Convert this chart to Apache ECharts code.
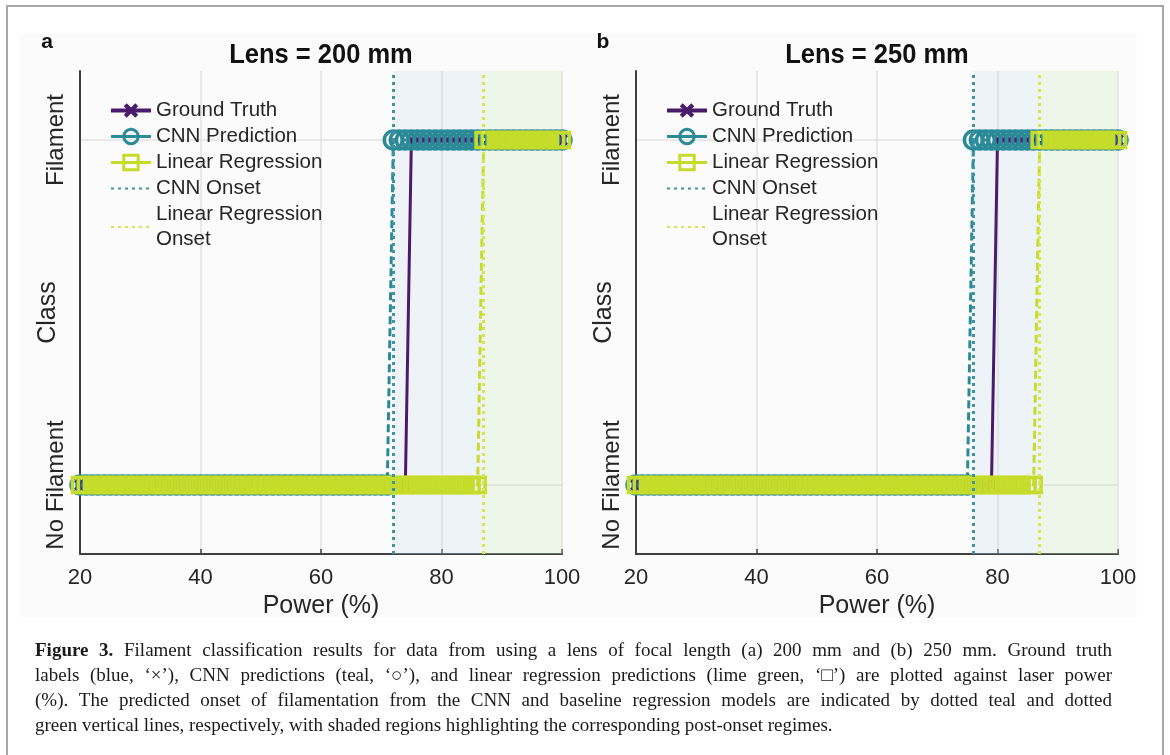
<!DOCTYPE html>
<html>
<head>
<meta charset="utf-8">
<script src="https://cdn.jsdelivr.net/npm/echarts@6/dist/echarts.min.js"></script>
<style>
html,body{margin:0;padding:0;background:#fff;}
#chart{width:1170px;height:755px;}
</style>
</head>
<body>
<div id="chart"></div>
<script>
// ---- data ----
const power = [
  20,21,22,23,24,25,26,27,28,29,
  30,31,32,33,34,35,36,37,38,39,
  40,41,42,43,44,45,46,47,48,49,
  50,51,52,53,54,55,56,57,58,59,
  60,61,62,63,64,65,66,67,68,69,
  70,71,72,73,74,75,76,77,78,79,
  80,81,82,83,84,85,86,87,88,89,
  90,91,92,93,94,95,96,97,98,99,
  100];

// Panel a: Lens = 200 mm (0 = No Filament, 1 = Filament)
const gtA = [
  0,0,0,0,0,0,0,0,0,0,
  0,0,0,0,0,0,0,0,0,0,
  0,0,0,0,0,0,0,0,0,0,
  0,0,0,0,0,0,0,0,0,0,
  0,0,0,0,0,0,0,0,0,0,
  0,0,0,0,0,1,1,1,1,1,
  1,1,1,1,1,1,1,1,1,1,
  1,1,1,1,1,1,1,1,1,1,
  1];
const cnnA = [
  0,0,0,0,0,0,0,0,0,0,
  0,0,0,0,0,0,0,0,0,0,
  0,0,0,0,0,0,0,0,0,0,
  0,0,0,0,0,0,0,0,0,0,
  0,0,0,0,0,0,0,0,0,0,
  0,0,1,1,1,1,1,1,1,1,
  1,1,1,1,1,1,1,1,1,1,
  1,1,1,1,1,1,1,1,1,1,
  1];
const lrA = [
  0,0,0,0,0,0,0,0,0,0,
  0,0,0,0,0,0,0,0,0,0,
  0,0,0,0,0,0,0,0,0,0,
  0,0,0,0,0,0,0,0,0,0,
  0,0,0,0,0,0,0,0,0,0,
  0,0,0,0,0,0,0,0,0,0,
  0,0,0,0,0,0,0,1,1,1,
  1,1,1,1,1,1,1,1,1,1,
  1];
const cnnOnsetA = 72;
const lrOnsetA = 87;

// Panel b: Lens = 250 mm
const gtB = [
  0,0,0,0,0,0,0,0,0,0,
  0,0,0,0,0,0,0,0,0,0,
  0,0,0,0,0,0,0,0,0,0,
  0,0,0,0,0,0,0,0,0,0,
  0,0,0,0,0,0,0,0,0,0,
  0,0,0,0,0,0,0,0,0,0,
  1,1,1,1,1,1,1,1,1,1,
  1,1,1,1,1,1,1,1,1,1,
  1];
const cnnB = [
  0,0,0,0,0,0,0,0,0,0,
  0,0,0,0,0,0,0,0,0,0,
  0,0,0,0,0,0,0,0,0,0,
  0,0,0,0,0,0,0,0,0,0,
  0,0,0,0,0,0,0,0,0,0,
  0,0,0,0,0,0,1,1,1,1,
  1,1,1,1,1,1,1,1,1,1,
  1,1,1,1,1,1,1,1,1,1,
  1];
const lrB = [
  0,0,0,0,0,0,0,0,0,0,
  0,0,0,0,0,0,0,0,0,0,
  0,0,0,0,0,0,0,0,0,0,
  0,0,0,0,0,0,0,0,0,0,
  0,0,0,0,0,0,0,0,0,0,
  0,0,0,0,0,0,0,0,0,0,
  0,0,0,0,0,0,0,1,1,1,
  1,1,1,1,1,1,1,1,1,1,
  1];
const cnnOnsetB = 76;
const lrOnsetB = 87;

const yTickValues = [0, 1];
const yTickLabels = ['No Filament', 'Filament'];
const panelLetters = ['a', 'b'];
const panelTitles = ['Lens = 200 mm', 'Lens = 250 mm'];
const captionBold = 'Figure 3.';
const captionLines = [
  'Figure 3. Filament classification results for data from using a lens of focal length (a) 200 mm and (b) 250 mm. Ground truth',
  'labels (blue, \u2018\u00d7\u2019), CNN predictions (teal, \u2018\u25cb\u2019), and linear regression predictions (lime green, \u2018\u25a1\u2019) are plotted against laser power',
  '(%). The predicted onset of filamentation from the CNN and baseline regression models are indicated by dotted teal and dotted',
  'green vertical lines, respectively, with shaded regions highlighting the corresponding post-onset regimes.'
];

// ---- styling ----
const FONT = "'Liberation Sans', Arial, Helvetica, sans-serif";
const SERIF = "'Liberation Serif', 'Times New Roman', serif";
const C_GT = '#4a1a6c';
const C_CNN = '#2b8a98';
const C_LR = '#c6dc2a';
const C_CNN_ON = '#3f93a4';
const C_LR_ON = '#d5e64e';
const TXT = '#262626';
const X_PATH = 'path://M2,0 L5,3 L8,0 L10,2 L7,5 L10,8 L8,10 L5,7 L2,10 L0,8 L3,5 L0,2 Z';

const panels = [
  {gt: gtA, cnn: cnnA, lr: lrA, cnnOn: cnnOnsetA, lrOn: lrOnsetA},
  {gt: gtB, cnn: cnnB, lr: lrB, cnnOn: cnnOnsetB, lrOn: lrOnsetB}
];
const gridLefts = [80, 636];
const gridW = 482;

function pairs(ys) { return power.map((p, i) => [p, ys[i]]); }
const xMax = power[power.length - 1];

const grids = [], xAxes = [], yAxes = [], series = [], legends = [], graphics = [];

panels.forEach((pd, g) => {
  grids.push({left: gridLefts[g], top: 71, width: gridW, height: 483});
  xAxes.push({
    gridIndex: g, type: 'value', min: 20, max: 100, interval: 20,
    name: 'Power (%)', nameLocation: 'middle', nameGap: 36,
    nameTextStyle: {fontSize: 25, color: TXT, fontFamily: FONT},
    axisLine: {show: true, onZero: false, lineStyle: {color: '#404040', width: 2}},
    axisTick: {show: true, inside: true, length: 5, lineStyle: {color: '#404040', width: 1.5}},
    axisLabel: {fontSize: 22, color: TXT, fontFamily: FONT, margin: 13},
    splitLine: {show: true, lineStyle: {color: '#e2e2e2', width: 1.5}}
  });
  yAxes.push({
    gridIndex: g, type: 'value', min: -0.2, max: 1.2,
    name: 'Class', nameLocation: 'middle', nameGap: 19, nameRotate: 90, nameMoveOverlap: false,
    nameTextStyle: {fontSize: 25, color: TXT, fontFamily: FONT},
    axisLine: {show: true, onZero: false, lineStyle: {color: '#404040', width: 2}},
    axisTick: {show: false, customValues: yTickValues},
    axisLabel: {customValues: yTickValues, rotate: 90, fontSize: 24, color: TXT, fontFamily: FONT, margin: 12,
      formatter: v => yTickLabels[yTickValues.indexOf(v)]},
    splitLine: {show: true, lineStyle: {color: '#e2e2e2', width: 1.5}}
  });

  series.push({
    name: 'CNN Onset', type: 'line', xAxisIndex: g, yAxisIndex: g, data: [], symbol: 'none',
    itemStyle: {color: C_CNN_ON},
    lineStyle: {color: C_CNN_ON, width: 3, type: [3, 4]},
    markArea: {silent: true, itemStyle: {color: 'rgba(205,222,240,0.28)'},
      data: [[{xAxis: pd.cnnOn}, {xAxis: pd.lrOn}]]},
    markLine: {silent: true, symbol: 'none', label: {show: false},
      lineStyle: {color: C_CNN_ON, width: 3, type: [3, 4]},
      data: [{xAxis: pd.cnnOn}]}
  });
  series.push({
    name: 'Linear Regression Onset', type: 'line', xAxisIndex: g, yAxisIndex: g, data: [], symbol: 'none',
    itemStyle: {color: C_LR_ON},
    lineStyle: {color: C_LR_ON, width: 3, type: [3, 4]},
    markArea: {silent: true, itemStyle: {color: 'rgba(210,235,195,0.30)'},
      data: [[{xAxis: pd.lrOn}, {xAxis: xMax}]]},
    markLine: {silent: true, symbol: 'none', label: {show: false},
      lineStyle: {color: C_LR_ON, width: 3, type: [3, 4]},
      data: [{xAxis: pd.lrOn}]}
  });
  series.push({
    name: 'Ground Truth', type: 'line', xAxisIndex: g, yAxisIndex: g, data: pairs(pd.gt),
    symbol: X_PATH, symbolSize: 12, itemStyle: {color: C_GT},
    lineStyle: {color: C_GT, width: 3}, emphasis: {disabled: true}
  });
  series.push({
    name: 'CNN Prediction', type: 'line', xAxisIndex: g, yAxisIndex: g, data: pairs(pd.cnn),
    symbol: 'circle', symbolSize: 18,
    itemStyle: {color: 'rgba(0,0,0,0)', borderColor: C_CNN, borderWidth: 3.5},
    lineStyle: {color: C_CNN, width: 3, type: [8, 4]}, emphasis: {disabled: true}
  });
  series.push({
    name: 'Linear Regression', type: 'line', xAxisIndex: g, yAxisIndex: g, data: pairs(pd.lr),
    symbol: 'rect', symbolSize: 15,
    itemStyle: {color: 'rgba(0,0,0,0)', borderColor: C_LR, borderWidth: 3.5},
    lineStyle: {color: C_LR, width: 3, type: [8, 4]}, emphasis: {disabled: true}
  });

  legends.push({
    left: gridLefts[g] + 24, top: 93, orient: 'vertical',
    itemWidth: 40, itemHeight: 18, itemGap: 1, selectedMode: false,
    textStyle: {fontSize: 20.5, color: TXT, fontFamily: FONT, lineHeight: 25},
    formatter: n => n === 'Linear Regression Onset' ? 'Linear Regression\nOnset' : n,
    data: [
      {name: 'Ground Truth', lineStyle: {width: 4}},
      {name: 'CNN Prediction', lineStyle: {type: 'solid', width: 3}, itemStyle: {borderWidth: 3}},
      {name: 'Linear Regression', lineStyle: {type: 'solid', width: 3}, itemStyle: {borderWidth: 3}},
      {name: 'CNN Onset', itemStyle: {opacity: 0}},
      {name: 'Linear Regression Onset', itemStyle: {opacity: 0}}
    ]
  });

  graphics.push({type: 'text', x: gridLefts[g] - 33, y: 42, z: 10,
    style: {text: panelLetters[g], fontSize: 21, fontWeight: 'bold', fontFamily: FONT, fill: '#111',
      textAlign: 'center', textVerticalAlign: 'middle'}});
  graphics.push({type: 'text', x: gridLefts[g] + gridW / 2, y: 55, scaleX: 0.91, z: 10,
    style: {text: panelTitles[g], fontSize: 28, fontWeight: 'bold', fontFamily: FONT, fill: '#111',
      textAlign: 'center', textVerticalAlign: 'middle'}});
});

// background + border
graphics.unshift({type: 'rect', z: -10, shape: {x: 20, y: 33, width: 1117, height: 584}, style: {fill: '#fbfbfb'}});
graphics.push({type: 'rect', z: 20, shape: {x: 7, y: 6, width: 1156, height: 770}, style: {fill: 'none', stroke: '#a6a6a6', lineWidth: 2}});

// caption: justified lines (last line left aligned), word by word
(function () {
  const CAP_SIZE = 19, CAP_LEFT = 35, CAP_RIGHT = 1112, CAP_TOP = 651, CAP_LH = 25;
  const ctx = document.createElement('canvas').getContext('2d');
  const fontOf = b => (b ? 'bold ' : '') + CAP_SIZE + 'px ' + SERIF;
  captionLines.forEach((line, li) => {
    const words = line.split(' ');
    const boldCount = li === 0 ? captionBold.split(' ').length : 0;
    const items = words.map((w, i) => {
      const b = i < boldCount;
      ctx.font = fontOf(b);
      return {w: w, b: b, width: ctx.measureText(w).width};
    });
    ctx.font = fontOf(false);
    const space = ctx.measureText(' ').width;
    const total = items.reduce((s, it) => s + it.width, 0);
    const last = li === captionLines.length - 1;
    const gap = last ? space : (CAP_RIGHT - CAP_LEFT - total) / (items.length - 1);
    let x = CAP_LEFT;
    items.forEach(it => {
      graphics.push({type: 'text', x: x, y: CAP_TOP + li * CAP_LH, z: 10,
        style: {text: it.w, fontSize: CAP_SIZE, fontWeight: it.b ? 'bold' : 'normal', fontFamily: SERIF,
          fill: '#1a1a1a', textVerticalAlign: 'middle'}});
      x += it.width + gap;
    });
  });
})();

const chart = echarts.init(document.getElementById('chart'), null, {renderer: 'canvas'});
chart.setOption({
  animation: false,
  backgroundColor: '#ffffff',
  grid: grids, xAxis: xAxes, yAxis: yAxes, series: series, legend: legends,
  graphic: graphics
});
</script>
</body>
</html>
